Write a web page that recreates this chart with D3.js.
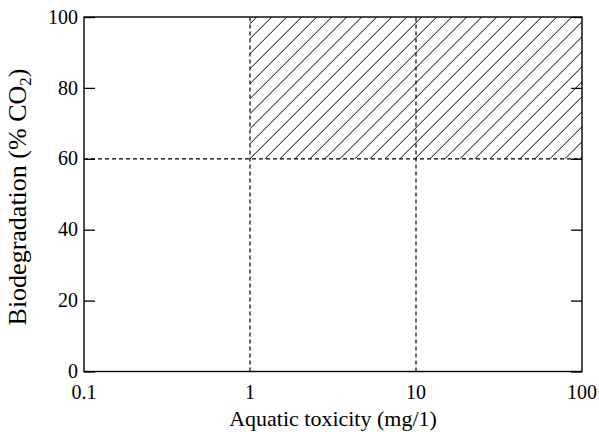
<!DOCTYPE html>
<html>
  <meta charset="utf-8" />
  <style>
    body { margin: 0; background: #fff; }
    text { font-family: "Liberation Serif", "DejaVu Serif", serif; fill: #000; }
  </style>
  <svg width="599" height="432"></svg>
  <script src="https://d3js.org/d3.v7.min.js"></script>
  <script>
    // chart values
    const xTicks = [0.1, 1, 10, 100];
    const xTickLabels = ["0.1", "1", "10", "100"];
    const yTicks = [0, 20, 40, 60, 80, 100];
    const toxicityLines = [1, 10]; // mg/l boundaries (dashed verticals)
    const biodegLimit = [60]; // % CO2 threshold (dashed horizontal)
    const hatchX = [1, 100];
    const hatchY = [60, 100];

    const svg = d3.select("svg");
    const margin = { left: 84, right: 17, top: 17, bottom: 60.5 };
    const width = +svg.attr("width");
    const height = +svg.attr("height");

    const x = d3
      .scaleLog()
      .domain([0.1, 100])
      .range([margin.left, width - margin.right]);
    const y = d3
      .scaleLinear()
      .domain([0, 100])
      .range([height - margin.bottom, margin.top]);

    const defs = svg.append("defs");
    defs
      .append("pattern")
      .attr("id", "hatch")
      .attr("patternUnits", "userSpaceOnUse")
      .attr("x", 3.7)
      .attr("y", 0)
      .attr("width", 15)
      .attr("height", 15)
      .append("path")
      .attr("d", "M-1,1 l2,-2 M0,15 l15,-15 M14,16 l2,-2")
      .attr("stroke", "#000")
      .attr("stroke-width", 1);

    // hatched region
    svg
      .append("rect")
      .attr("x", x(hatchX[0]))
      .attr("y", y(hatchY[1]))
      .attr("width", x(hatchX[1]) - x(hatchX[0]))
      .attr("height", y(hatchY[0]) - y(hatchY[1]))
      .attr("fill", "url(#hatch)");

    // dashed reference lines
    svg
      .append("g")
      .selectAll("line")
      .data(toxicityLines)
      .join("line")
      .attr("x1", (d) => x(d))
      .attr("x2", (d) => x(d))
      .attr("y1", y(0))
      .attr("y2", y(100))
      .attr("stroke", "#000")
      .attr("stroke-width", 1.2)
      .attr("stroke-dasharray", "4,3");

    svg
      .append("g")
      .selectAll("line")
      .data(biodegLimit)
      .join("line")
      .attr("x1", x(0.1))
      .attr("x2", x(100))
      .attr("y1", (d) => y(d))
      .attr("y2", (d) => y(d))
      .attr("stroke", "#000")
      .attr("stroke-width", 1.2)
      .attr("stroke-dasharray", "4,3");

    // axes (ticks pointing inward, mirrored on right)
    const yLeft = svg
      .append("g")
      .attr("transform", `translate(${x(0.1)},0)`)
      .call(d3.axisRight(y).tickValues(yTicks).tickSize(11).tickFormat(""));
    const yRight = svg
      .append("g")
      .attr("transform", `translate(${x(100)},0)`)
      .call(d3.axisLeft(y).tickValues(yTicks).tickSize(11).tickFormat(""));
    [yLeft, yRight].forEach((g) => {
      g.select(".domain").remove();
      g.selectAll("line").attr("stroke", "#000").attr("stroke-width", 1.3);
    });

    // frame
    svg
      .append("rect")
      .attr("x", x(0.1))
      .attr("y", y(100))
      .attr("width", x(100) - x(0.1))
      .attr("height", y(0) - y(100))
      .attr("fill", "none")
      .attr("stroke", "#000")
      .attr("stroke-width", 1.4);

    // tick labels
    svg
      .append("g")
      .selectAll("text")
      .data(yTicks)
      .join("text")
      .attr("x", x(0.1) - 6)
      .attr("y", (d) => y(d))
      .attr("dy", "0.33em")
      .attr("text-anchor", "end")
      .attr("font-size", 20)
      .text((d) => d);

    svg
      .append("g")
      .selectAll("text")
      .data(xTicks)
      .join("text")
      .attr("x", (d) => x(d))
      .attr("y", 399)
      .attr("text-anchor", "middle")
      .attr("font-size", 20)
      .text((d, i) => xTickLabels[i]);

    // axis titles
    svg
      .append("text")
      .attr("x", (x(0.1) + x(100)) / 2)
      .attr("y", 426)
      .attr("text-anchor", "middle")
      .attr("font-size", 22)
      .text("Aquatic toxicity (mg/1)");

    const yTitle = svg
      .append("text")
      .attr("transform", `translate(26,197) rotate(-90)`)
      .attr("text-anchor", "middle")
      .attr("font-size", 26);
    yTitle.append("tspan").text("Biodegradation (% CO");
    yTitle.append("tspan").attr("font-size", 17).attr("dy", 5).text("2");
    yTitle.append("tspan").attr("dy", -5).text(")");
  </script>
</html>
